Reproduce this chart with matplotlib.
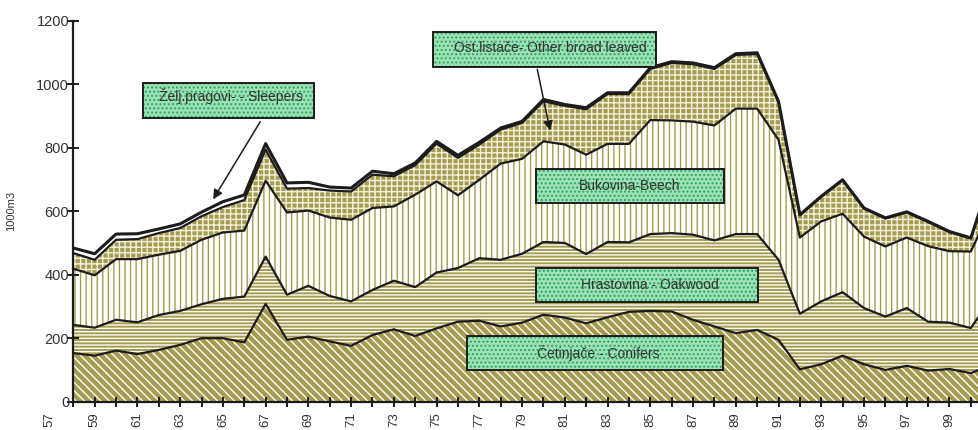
import matplotlib
matplotlib.use("Agg")
import matplotlib.pyplot as plt
from matplotlib.patches import Rectangle
from matplotlib.transforms import blended_transform_factory
import numpy as np

plt.rcParams["font.family"] = ["Liberation Sans", "DejaVu Sans"]
plt.rcParams["hatch.linewidth"] = 1.0

# yearly cuts, 1000 m3, one value per year from 1958 to 2001
conifers = [153, 145, 161, 150, 163, 179, 200, 200, 187, 308, 195, 205, 190, 176, 210,
            228, 207, 231, 252, 255, 237, 249, 274, 265, 247, 266, 283, 286, 284, 258,
            237, 216, 226, 195, 102, 118, 145, 118, 100, 113, 98, 103, 90, 117]
oakwood = [89, 88, 97, 100, 110, 107, 107, 124, 144, 149, 142, 160, 143, 140, 142,
           153, 154, 176, 169, 197, 210, 217, 229, 235, 218, 237, 219, 242, 247, 268,
           271, 312, 302, 252, 175, 198, 200, 177, 168, 182, 154, 146, 142, 213]
beech = [177, 165, 191, 199, 190, 189, 203, 209, 208, 239, 259, 237, 247, 257, 258,
         234, 291, 287, 229, 247, 303, 299, 317, 310, 313, 309, 310, 359, 355, 356,
         362, 395, 395, 378, 240, 252, 247, 225, 221, 222, 238, 225, 241, 285]
other_broad = [49, 49, 61, 63, 68, 72, 74, 80, 96, 98, 75, 71, 85, 89, 105,
               95, 93, 119, 118, 111, 107, 113, 126, 122, 143, 157, 157, 161, 181, 181,
               178, 169, 172, 118, 70, 77, 105, 88, 88, 79, 76, 60, 41, 103]
sleepers = [16, 19, 18, 17, 13, 13, 13, 17, 16, 19, 18, 18, 11, 11, 11,
            8, 7, 7, 8, 7, 5, 5, 6, 4, 5, 4, 4, 4, 4, 4,
            4, 4, 4, 3, 2, 2, 2, 2, 2, 2, 2, 2, 2, 2]
first_year = 58
tick_labels = ["57", "59", "61", "63", "65", "67", "69", "71", "73", "75", "77",
               "79", "81", "83", "85", "87", "89", "91", "93", "95", "97", "99"]

OLIVE = "#a69c50"
INK = "#1c1c1c"
W, H = 979, 430


def fig_xy(px, py):
    # picture pixels (from top-left) -> figure fraction
    return px / W, (H - py) / H


def label_box(fig, x0, y0, x1, y1, text, tx, ty):
    fx, fy = fig_xy(x0, y1)
    w, h = (x1 - x0) / W, (y1 - y0) / H
    fig.add_artist(Rectangle((fx, fy), w, h, transform=fig.transFigure,
                             facecolor="#9fe0b7", edgecolor="#27a85e", hatch="....",
                             linewidth=0, zorder=5))
    fig.add_artist(Rectangle((fx, fy), w, h, transform=fig.transFigure,
                             facecolor="none", edgecolor=INK, linewidth=1.4, zorder=6))
    fig.text(*fig_xy(tx, ty), text, ha="center", va="center", fontsize=10,
             color="#333333", zorder=7)


def main():
    layers = [
        (conifers, OLIVE, "white", "\\\\\\\\"),
        (oakwood, OLIVE, "white", "-----"),
        (beech, "white", OLIVE, "|||"),
        (other_broad, OLIVE, "#f4f1de", "+++"),
        (sleepers, "white", "white", None),
    ]
    x = np.arange(len(conifers))

    fig = plt.figure(figsize=(W / 100, H / 100), dpi=100)
    ax = fig.add_axes([73.3 / W, 28.3 / H, (W - 73.3) / W, 381 / H])

    base = np.zeros(len(x))
    tops = []
    for values, face, hatch_col, hatch in layers:
        top = base + np.array(values)
        ax.fill_between(x, base, top, facecolor=face, edgecolor=hatch_col,
                        hatch=hatch, linewidth=0, zorder=1)
        tops.append(top)
        base = top
    for k, top in enumerate(tops):
        lw = 2.2 if k == len(tops) - 1 else 1.6
        ax.plot(x, top, color=INK, linewidth=lw, zorder=3)

    ax.set_xlim(0, (W - 73.3) / 21.37)
    ax.set_ylim(0, 1200)
    for side in ("top", "right"):
        ax.spines[side].set_visible(False)
    for side in ("left", "bottom"):
        ax.spines[side].set_linewidth(1.6)
        ax.spines[side].set_color(INK)
        ax.spines[side].set_zorder(4)

    label_pos = {int(t) + 100 * (int(t) < 50) - first_year: t for t in tick_labels}
    ticks = list(range(0, 43))
    ax.set_xticks(ticks)
    ax.set_xticklabels([label_pos.get(t, "") for t in ticks], rotation=90,
                       fontsize=9.5, color="#333333")
    ax.tick_params(axis="x", direction="inout", length=7, width=1.4, color=INK, pad=4)
    # the first label sits left of the axis start, outside the view limits
    trans = blended_transform_factory(ax.transData, ax.transAxes)
    ax.annotate(label_pos[-1], xy=(-1.1, 0), xycoords=trans, xytext=(0, -7.5),
                textcoords="offset points", rotation=90, ha="center", va="top",
                fontsize=9.5, color="#333333", annotation_clip=False)

    ax.set_yticks(range(0, 1201, 200))
    ax.tick_params(axis="y", direction="inout", length=8, width=1.4, color=INK,
                   pad=-1, labelsize=10.5, labelcolor="#333333")
    ax.set_ylabel("1000m3", fontsize=8, color="#333333")
    ax.yaxis.set_label_coords((16 - 73.3) / (W - 73.3), 0.5)

    label_box(fig, 142.7, 83.3, 314, 118.3, "Želj.pragovi- - Sleepers", 231, 96)
    label_box(fig, 432.7, 32.3, 655.7, 66.7, "Ost.listače- Other broad leaved", 550, 48)
    label_box(fig, 535.7, 169, 724, 203.3, "Bukovina-Beech", 630, 186)
    label_box(fig, 535.7, 268.3, 758.3, 301.7, "Hrastovina - Oakwood", 650, 285)
    label_box(fig, 467.3, 336, 723.3, 370, "Četinjače - Conifers", 598, 353)

    arrow = dict(arrowstyle="-|>", color=INK, lw=1.1, mutation_scale=14)
    ax.annotate("", xy=(211.7, H - 201.7), xycoords="figure pixels",
                xytext=(261.7, H - 119.3), textcoords="figure pixels",
                arrowprops=arrow, zorder=8)
    ax.annotate("", xy=(550.7, H - 133.3), xycoords="figure pixels",
                xytext=(536.7, H - 66.7), textcoords="figure pixels",
                arrowprops=arrow, zorder=8)

    fig.savefig("out.png", dpi=100)
    plt.close(fig)


if __name__ == "__main__":
    main()
